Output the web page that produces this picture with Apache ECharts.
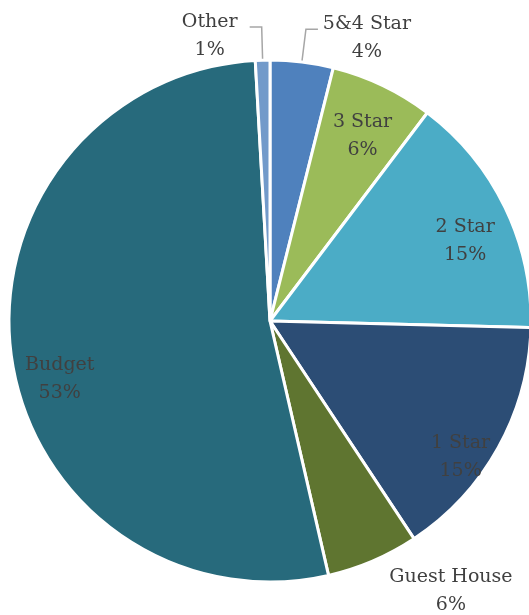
<!DOCTYPE html>
<html><head><meta charset="utf-8">
<script src="https://cdn.jsdelivr.net/npm/echarts@6/dist/echarts.min.js"></script>
<style>html,body{margin:0;padding:0;background:#fff}#c{width:529px;height:615px}</style>
</head><body><div id="c"></div>
<script>
const categories = ['5&4 Star', '3 Star', '2 Star', '1 Star', 'Guest House', 'Budget', 'Other'];
const shares = [3.9, 6.4, 15.1, 15.3, 5.7, 52.7, 0.9];
const colors = ['#4f81bd', '#9bbb59', '#4bacc6', '#2c4d75', '#5f7530', '#276a7c', '#729aca'];
const outsideLabels = ['5&4 Star', 'Other', 'Guest House'];

const chart = echarts.init(document.getElementById('c'));
const font = { fontFamily: 'DejaVu Serif', fontSize: 19, color: '#404040', lineHeight: 28 };
const fmt = p => p.name + '\n' + Math.round(p.percent) + '%';
const center = [270, 321];
const R = 261;

const outsideShift = { '5&4 Star': [44, 9], 'Other': [-35, 9], 'Guest House': [48, 0] };
const insideShift = { '3 Star': [0, 8], '2 Star': [2, 13], '1 Star': [3, 32], 'Budget': [2, 28] };

chart.setOption({
  animation: false,
  series: [
    {
      type: 'pie',
      center: center,
      radius: [0, R],
      startAngle: 90,
      clockwise: true,
      avoidLabelOverlap: false,
      itemStyle: { borderColor: '#fff', borderWidth: 3 },
      label: Object.assign({ show: true, position: 'outside', formatter: fmt }, font),
      labelLine: { show: true, length: 33, length2: 12, lineStyle: { color: '#a6a6a6', width: 1.5 } },
      data: categories.map((n, i) => {
        const d = { name: n, value: shares[i], itemStyle: { color: colors[i] } };
        if (outsideLabels.indexOf(n) < 0) { d.label = { show: false }; d.labelLine = { show: false }; }
        if (n === 'Guest House') { d.labelLine = { show: false }; }
        return d;
      }),
      labelLayout: function (p) {
        const s = outsideShift[categories[p.dataIndex]];
        return s ? { dx: s[0], dy: s[1], align: 'center' } : {};
      }
    },
    {
      type: 'pie',
      center: center,
      radius: [R * 0.62, R],
      startAngle: 90,
      silent: true,
      avoidLabelOverlap: false,
      itemStyle: { color: 'rgba(0,0,0,0)' },
      label: Object.assign({ show: true, position: 'inside', formatter: fmt }, font),
      labelLine: { show: false },
      data: categories.map((n, i) => {
        const d = { name: n, value: shares[i] };
        if (outsideLabels.indexOf(n) >= 0) d.label = { show: false };
        return d;
      }),
      labelLayout: function (p) {
        const s = insideShift[categories[p.dataIndex]];
        return s ? { dx: s[0], dy: s[1] } : {};
      }
    }
  ]
});
</script></body></html>
